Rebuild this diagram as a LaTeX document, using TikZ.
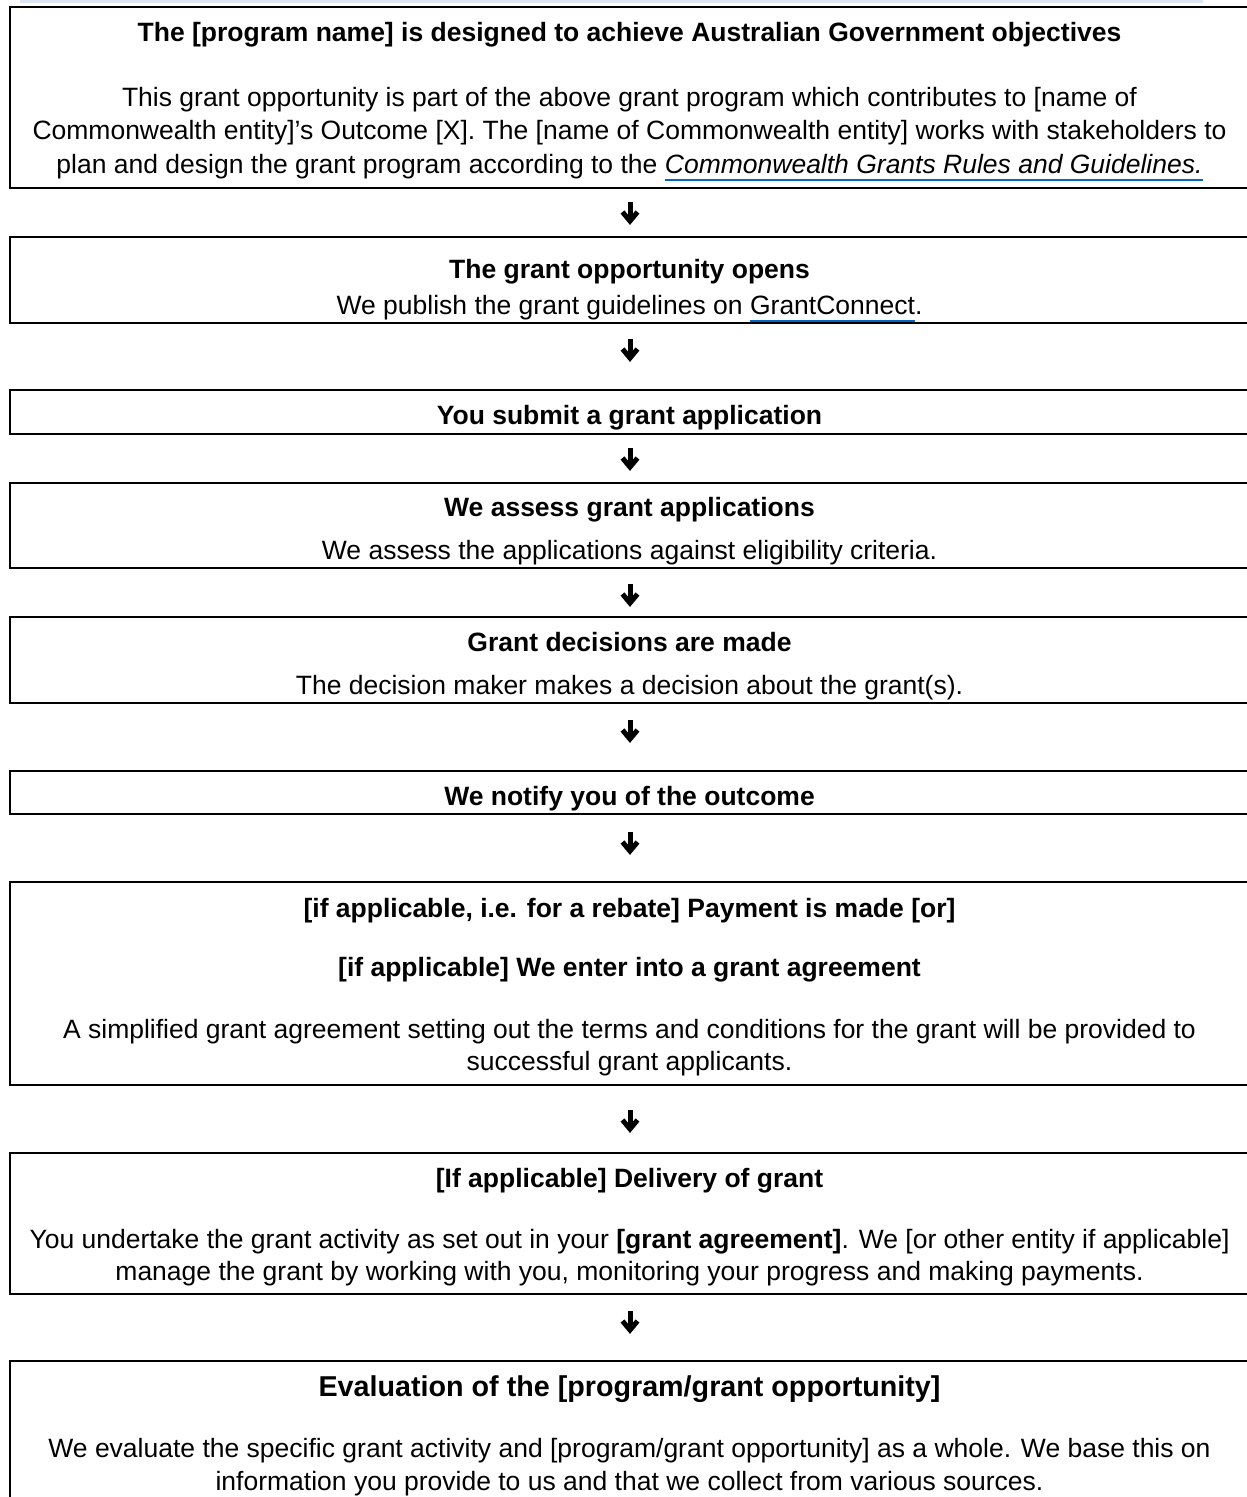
\documentclass[tikz,border=0pt]{standalone}
\usepackage{fontspec}
\setmainfont{Liberation Sans}
\definecolor{linkblue}{HTML}{0563C1}
\definecolor{bandblue}{HTML}{DCE6F2}
\newsavebox\myulbox
\newcommand\linkul[1]{\sbox\myulbox{#1}\rlap{\textcolor{linkblue}{\rule[-8pt]{\wd\myulbox}{2pt}}}\usebox\myulbox}
\tikzset{
  box/.style={draw, line width=2pt, inner sep=0pt, outer sep=0pt, anchor=north west, minimum width=1240pt},
  txt/.style={inner sep=0pt, anchor=base, font=\fontsize{26.5pt}{32pt}\selectfont},
  flowarrow/.style={line width=5pt, line cap=butt, line join=miter}
}
\begin{document}
\begin{tikzpicture}[x=1pt,y=-1pt]
\useasboundingbox (0,0) rectangle (1247,1497);
\begin{scope}
\clip (0,0) rectangle (1247,1497);
\fill[bandblue] (20,0) rectangle (1203,3);
% boxes
\node[box, line width=2.8pt, minimum height=181pt] (b1) at (10,7) {};
\node[box, minimum height=86pt] (b2) at (10,237) {};
\node[box, minimum height=44pt] (b3) at (10,390) {};
\node[box, minimum height=85pt] (b4) at (10,483) {};
\node[box, minimum height=86pt] (b5) at (10,617) {};
\node[box, minimum height=43pt] (b6) at (10,771) {};
\node[box, minimum height=203pt] (b7) at (10,882) {};
\node[box, minimum height=141pt] (b8) at (10,1153) {};
\node[box, minimum height=160pt] (b9) at (10,1361) {};
% texts
\node[txt] (t1a) at (629.5,41) {\textbf{The [program name] is designed to achieve Australian Government objectives}};
\node[txt] (t1b) at (629.5,106) {This grant opportunity is part of the above grant program which contributes to [name of};
\node[txt] (t1c) at (629.5,139.5) {Commonwealth entity]’s Outcome [X]. The [name of Commonwealth entity] works with stakeholders to};
\node[txt] (t1d) at (629.5,173) {plan and design the grant program according to the \linkul{\textit{Commonwealth Grants Rules and Guidelines.}}};
\node[txt] (t2a) at (629.5,278) {\textbf{The grant opportunity opens}};
\node[txt] (t2b) at (629.5,314) {We publish the grant guidelines on \linkul{GrantConnect}.};
\node[txt] (t3a) at (629.5,424) {\textbf{You submit a grant application}};
\node[txt] (t4a) at (629.5,516) {\textbf{We assess grant applications}};
\node[txt] (t4b) at (629.5,559) {We assess the applications against eligibility criteria.};
\node[txt] (t5a) at (629.5,651) {\textbf{Grant decisions are made}};
\node[txt] (t5b) at (629.5,694) {The decision maker makes a decision about the grant(s).};
\node[txt] (t6a) at (629.5,805) {\textbf{We notify you of the outcome}};
\node[txt] (t7a) at (629.5,917) {\textbf{[if applicable, i.e. for a rebate] Payment is made [or]}};
\node[txt] (t7b) at (629.5,976) {\textbf{[if applicable] We enter into a grant agreement}};
\node[txt] (t7c) at (629.5,1038) {A simplified grant agreement setting out the terms and conditions for the grant will be provided to};
\node[txt] (t7d) at (629.5,1070) {successful grant applicants.};
\node[txt] (t8a) at (629.5,1187) {\textbf{[If applicable] Delivery of grant}};
\node[txt] (t8b) at (629.5,1248) {You undertake the grant activity as set out in your \textbf{[grant agreement]}. We [or other entity if applicable]};
\node[txt] (t8c) at (629.5,1280) {manage the grant by working with you, monitoring your progress and making payments.};
\node[txt, font=\fontsize{28.7pt}{34pt}\selectfont\bfseries] (t9a) at (629.5,1396) {Evaluation of the [program/grant opportunity]};
\node[txt] (t9b) at (629.5,1457) {We evaluate the specific grant activity and [program/grant opportunity] as a whole. We base this on};
\node[txt] (t9c) at (629.5,1490) {information you provide to us and that we collect from various sources.};
% arrows (shaft from top coordinate to tip coordinate, chevron head at tip)
\foreach \i/\c in {1/213.5, 2/350.5, 3/459.5, 4/595.5, 5/731.5, 6/843.5, 7/1121.5, 8/1322.5} {
  \coordinate (a\i s) at (630,\c-11.5);
  \coordinate (a\i e) at (630,\c+7.5);
  \draw[flowarrow] (a\i s) -- (a\i e);
  \draw[flowarrow] ([shift={(-7.5,-9)}]a\i e) -- (a\i e) -- ([shift={(7.5,-9)}]a\i e);
}
\end{scope}
\end{tikzpicture}
\end{document}
